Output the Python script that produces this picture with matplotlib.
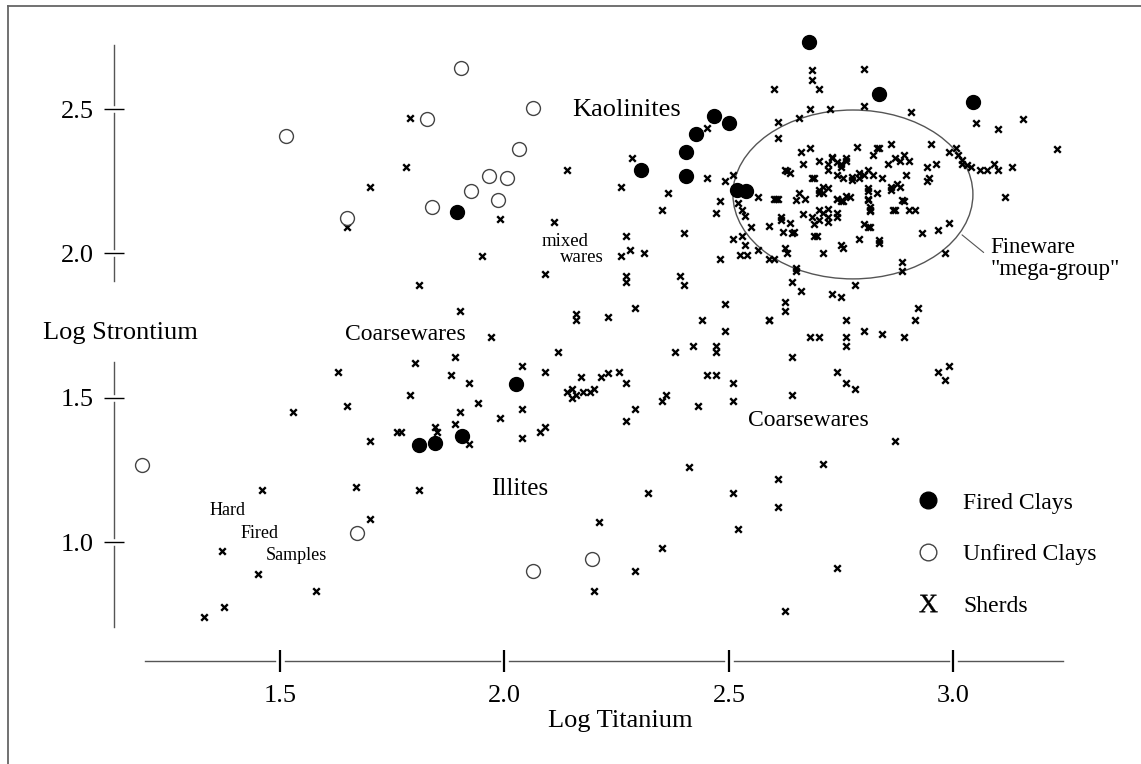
import numpy as np
import matplotlib
matplotlib.use('Agg')
import matplotlib.pyplot as plt
from matplotlib.patches import Ellipse
from matplotlib.lines import Line2D

plt.rcParams['font.family'] = ['Liberation Serif', 'DejaVu Serif']
plt.rcParams['mathtext.fontset'] = 'custom'
plt.rcParams['mathtext.rm'] = 'Liberation Serif'

# (log Ti, log Sr)
fired = np.array([(1.894, 2.143), (2.304, 2.289), (2.404, 2.351), (2.404, 2.268), (2.427, 2.413),
                  (2.467, 2.476), (2.50, 2.452), (2.518, 2.219), (2.538, 2.216), (2.678, 2.732),
                  (2.834, 2.552), (3.043, 2.524), (2.026, 1.547), (1.905, 1.367), (1.81, 1.336),
                  (1.845, 1.343)])

unfired = np.array([(1.513, 2.407), (1.649, 2.122), (1.903, 2.642), (1.827, 2.465), (2.063, 2.503),
                    (2.032, 2.361), (1.966, 2.268), (2.006, 2.261), (1.925, 2.216), (1.986, 2.185),
                    (1.839, 2.161), (1.193, 1.267), (1.671, 1.031), (2.063, 0.900), (2.195, 0.941)])

sherds = np.array([
    (1.70, 2.23), (1.65, 2.09), (1.79, 2.47), (1.78, 2.30), (1.99, 2.12), (2.14, 2.29), (2.11, 2.11),
    (1.81, 1.89), (1.95, 1.99), (1.90, 1.80), (1.97, 1.71), (2.09, 1.93), (2.27, 2.06), (2.26, 1.99),
    (2.28, 2.01), (2.31, 2.00), (2.27, 1.92), (2.27, 1.90), (2.39, 1.92), (2.40, 1.89), (2.40, 2.07),
    (2.48, 1.98), (2.59, 1.77), (2.29, 1.81), (2.23, 1.78), (2.16, 1.79), (2.16, 1.77), (2.12, 1.66),
    (1.80, 1.62), (1.89, 1.64), (1.88, 1.58), (1.92, 1.55), (1.79, 1.51), (1.94, 1.48), (1.90, 1.45),
    (1.89, 1.41), (1.77, 1.38), (1.845, 1.40), (1.85, 1.38), (1.92, 1.34), (1.99, 1.43), (2.04, 1.61),
    (2.09, 1.59), (2.04, 1.46), (2.08, 1.38), (2.09, 1.40), (2.04, 1.36), (2.17, 1.57),
    (2.14, 1.52), (2.15, 1.53), (2.15, 1.50), (2.16, 1.51), (2.175, 1.52), (2.19, 1.52), (2.20, 1.53),
    (2.215, 1.57), (2.23, 1.585), (2.255, 1.59), (2.27, 1.55), (2.29, 1.46), (2.27, 1.42), (2.35, 1.49),
    (2.36, 1.51), (2.43, 1.47), (2.38, 1.66), (2.42, 1.68), (2.47, 1.68), (2.47, 1.66), (2.45, 1.58),
    (2.47, 1.58), (2.51, 1.55), (2.51, 1.49), (2.44, 1.77), (2.49, 1.825), (2.49, 1.73),
    (1.63, 1.59), (1.65, 1.47), (1.53, 1.45), (1.70, 1.35), (1.76, 1.38), (1.46, 1.18), (1.67, 1.19),
    (1.70, 1.08), (1.37, 0.97), (1.45, 0.89), (1.58, 0.83), (1.375, 0.775), (1.33, 0.74), (1.81, 1.18),
    (2.41, 1.26), (2.32, 1.17), (2.51, 1.17), (2.61, 1.22), (2.61, 1.12), (2.21, 1.07), (2.52, 1.045),
    (2.35, 0.98), (2.29, 0.90), (2.20, 0.83), (2.87, 1.35), (2.71, 1.27), (2.74, 0.91), (2.625, 0.76),
    (2.98, 2.00), (2.885, 1.97), (2.885, 1.94), (2.78, 1.89), (2.73, 1.86), (2.75, 1.85), (2.64, 1.90),
    (2.66, 1.87), (2.625, 1.83), (2.625, 1.80), (2.59, 1.77), (2.76, 1.77), (2.92, 1.81), (2.915, 1.77),
    (2.68, 1.71), (2.70, 1.71), (2.76, 1.71), (2.76, 1.68), (2.80, 1.73), (2.84, 1.72), (2.89, 1.71),
    (2.64, 1.64), (2.74, 1.59), (2.76, 1.55), (2.78, 1.53), (2.965, 1.59), (2.99, 1.61), (2.98, 1.56),
    (2.64, 1.51), (2.69, 2.06), (2.64, 2.07), (2.75, 2.03), (2.71, 2.00), (2.60, 1.98), (2.65, 1.94),
    (2.93, 2.07),
    (2.685, 2.635), (2.685, 2.60), (2.70, 2.57), (2.60, 2.57), (2.80, 2.64), (2.68, 2.50), (2.725, 2.50),
    (2.80, 2.51), (2.905, 2.49), (2.655, 2.47), (2.61, 2.455), (2.61, 2.40), (3.05, 2.45), (3.10, 2.43),
    (3.155, 2.465), (3.23, 2.36), (3.36, 2.32), (3.115, 2.195), (3.04, 2.30), (3.06, 2.29), (3.075, 2.29),
    (3.09, 2.31), (3.10, 2.29), (3.13, 2.30), (2.99, 2.35), (3.01, 2.34), (3.02, 2.31), (2.965, 2.08),
    (2.99, 2.105), (2.915, 2.15), (2.865, 2.15), (2.89, 2.18), (2.785, 2.37), (2.83, 2.365), (2.86, 2.38),
    (2.95, 2.38), (2.66, 2.35), (2.68, 2.365), (2.665, 2.31), (2.685, 2.26), (2.82, 2.34), (2.835, 2.365),
    (2.87, 2.33), (2.855, 2.31), (2.90, 2.32), (2.76, 2.32), (2.94, 2.30), (2.96, 2.31), (2.895, 2.27),
    (2.86, 2.23), (2.875, 2.24), (2.83, 2.21),
    (2.63, 2.285), (2.635, 2.28), (2.625, 2.29), (2.70, 2.32), (2.73, 2.33), (2.75, 2.31), (2.72, 2.29),
    (2.74, 2.27), (2.755, 2.26), (2.775, 2.255), (2.69, 2.26), (2.45, 2.26), (2.49, 2.25), (2.51, 2.27),
    (2.48, 2.18), (2.47, 2.14), (2.565, 2.195), (2.60, 2.19), (2.61, 2.19), (2.605, 2.19), (2.655, 2.21),
    (2.67, 2.19), (2.65, 2.185), (2.71, 2.23), (2.70, 2.21), (2.74, 2.19), (2.755, 2.18), (2.77, 2.195),
    (2.53, 2.15), (2.535, 2.13), (2.52, 2.175), (2.55, 2.09), (2.59, 2.095), (2.615, 2.125), (2.615, 2.115),
    (2.635, 2.105), (2.62, 2.075), (2.645, 2.075), (2.665, 2.135), (2.685, 2.125), (2.70, 2.115),
    (2.72, 2.125), (2.74, 2.125), (2.69, 2.10), (2.72, 2.11), (2.51, 2.05), (2.53, 2.06), (2.535, 2.03),
    (2.54, 1.995), (2.525, 1.995), (2.565, 2.01), (2.625, 2.02), (2.63, 2.00), (2.695, 2.06), (2.755, 2.02),
    (2.65, 1.95), (2.59, 1.98),
    (2.26, 2.23), (2.365, 2.21), (2.35, 2.15), (2.285, 2.33), (2.45, 2.435),
    (2.89, 2.34), (2.88, 2.32), (3.005, 2.365), (3.02, 2.325), (3.03, 2.305), (2.94, 2.25), (2.945, 2.26),
    (2.84, 2.26), (2.82, 2.27), (2.79, 2.26), (2.88, 2.23), (2.86, 2.22), (2.885, 2.185), (2.87, 2.15),
    (2.90, 2.15), (2.81, 2.225), (2.81, 2.185), (2.815, 2.15), (2.81, 2.09), (2.79, 2.05), (2.835, 2.035),
    (2.73, 2.335), (2.74, 2.315), (2.75, 2.30), (2.76, 2.33), (2.72, 2.31), (2.79, 2.28), (2.80, 2.27),
    (2.81, 2.29), (2.775, 2.265), (2.70, 2.22), (2.71, 2.21), (2.72, 2.225), (2.74, 2.19), (2.75, 2.18),
    (2.76, 2.20), (2.81, 2.215), (2.81, 2.19), (2.815, 2.16), (2.815, 2.145), (2.70, 2.15), (2.71, 2.14),
    (2.72, 2.155), (2.74, 2.14), (2.80, 2.10), (2.815, 2.09), (2.835, 2.045)])

xticks = [1.5, 2.0, 2.5, 3.0]
yticks = [1.0, 1.5, 2.0, 2.5]

fig = plt.figure(figsize=(11.41, 7.64), dpi=100)
ax = fig.add_axes([100 / 1141, 64 / 764, 1000 / 1141, 680 / 764])
ax.set_xlim(1.0991, 3.3263)
ax.set_ylim(0.4529, 2.8083)

ax.add_patch(Ellipse((2.776, 2.204), 0.5345, 0.585, fill=False, ec='#555555', lw=1.0, zorder=1))
ax.scatter(sherds[:, 0], sherds[:, 1], marker='x', s=22, c='k', linewidths=1.7, zorder=2)
ax.scatter(unfired[:, 0], unfired[:, 1], s=100, facecolors='white', edgecolors='#444444',
           linewidths=1.0, zorder=3)
ax.scatter(fired[:, 0], fired[:, 1], s=100, c='k', zorder=3)

# detached axes, drawn as broken lines with little gaps round each tick
for s in ax.spines.values():
    s.set_visible(False)
x_axis_y, y_axis_x = 0.588, 1.130
ax.spines['bottom'].set_position(('data', x_axis_y))
ax.spines['left'].set_position(('data', y_axis_x))
ax.set_xticks(xticks)
ax.set_yticks(yticks)
ax.tick_params(axis='x', direction='inout', length=16, width=1.6, pad=9, labelsize=19)
ax.tick_params(axis='y', direction='inout', length=15, width=1.0, pad=7, labelsize=19)


def pieces(lo, hi, cuts):
    out, start = [], lo
    for a, b in sorted(cuts):
        out.append((start, a))
        start = b
    out.append((start, hi))
    return out


for a, b in pieces(1.2, 3.244, [(t - 0.011, t + 0.011) for t in xticks]):
    ax.plot([a, b], [x_axis_y, x_axis_y], color='#555555', lw=1.0, clip_on=False)
for a, b in pieces(0.706, 2.722, [(t - 0.014, t + 0.014) for t in yticks] + [(1.624, 1.904)]):
    ax.plot([y_axis_x, y_axis_x], [a, b], color='#555555', lw=1.0, clip_on=False)

ax.set_xlabel('Log Titanium', fontsize=19, va='center')
ax.xaxis.set_label_coords(2.259, 0.381, transform=ax.transData)
ax.set_ylabel('Log Strontium', fontsize=19, rotation=0, ha='center', va='center')
ax.yaxis.set_label_coords(1.144, 1.725, transform=ax.transData)

ax.text(2.271, 2.498, 'Kaolinites', fontsize=19, ha='center', va='center')
ax.text(2.083, 2.040, 'mixed', fontsize=13.5, va='center')
ax.text(2.124, 1.985, 'wares', fontsize=13.5, va='center')
ax.text(1.645, 1.718, 'Coarsewares', fontsize=17, va='center')
ax.text(2.542, 1.420, 'Coarsewares', fontsize=17, va='center')
ax.text(1.970, 1.185, 'Illites', fontsize=18, va='center')
ax.text(1.342, 1.108, 'Hard', fontsize=13, va='center')
ax.text(1.413, 1.029, 'Fired', fontsize=13, va='center')
ax.text(1.469, 0.953, 'Samples', fontsize=13, va='center')
ax.annotate('Fineware\n"mega-group"', xy=(3.019, 2.064), xytext=(3.083, 1.983),
            fontsize=16.5, ha='left', va='center', linespacing=1.05,
            arrowprops=dict(arrowstyle='-', color='#555555', lw=0.8, relpos=(0, 0.5),
                            shrinkA=4, shrinkB=0))

handles = [Line2D([], [], ls='none', marker='o', ms=12, mfc='k', mec='k'),
           Line2D([], [], ls='none', marker='o', ms=12, mfc='white', mec='#444444', mew=1.0),
           Line2D([], [], ls='none', marker=r'$\mathrm{X}$', ms=13, mfc='k', mec='k', mew=0.3)]
ax.legend(handles, ['Fired Clays', 'Unfired Clays', 'Sherds'], loc='upper left',
          bbox_to_anchor=(2.916, 1.173), bbox_transform=ax.transData, frameon=False,
          fontsize=17, handlelength=1.0, handletextpad=1.0, labelspacing=1.27,
          borderpad=0, borderaxespad=0)

# thin frame on the top and left edges of the page
fig.add_artist(Line2D([8 / 1141, 1], [1 - 6 / 764, 1 - 6 / 764], color='#666666', lw=1.3))
fig.add_artist(Line2D([8 / 1141, 8 / 1141], [0, 1 - 6 / 764], color='#666666', lw=1.3))

fig.savefig('out.png', dpi=100)
